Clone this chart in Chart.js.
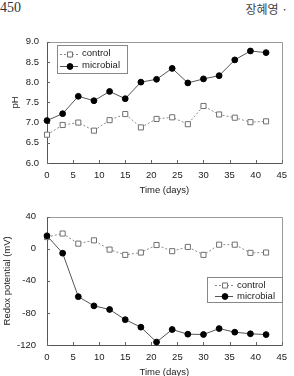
<!DOCTYPE html>
<html>
<head>
<meta charset="utf-8">
<script src="https://cdn.jsdelivr.net/npm/chart.js@4/dist/chart.umd.min.js"></script>
<style>
  html, body { margin:0; padding:0; background:#fff; width:294px; height:376px; overflow:hidden; }
  #hdrL { position:absolute; left:0px; top:0px; font-family:"Liberation Serif","DejaVu Serif",serif; font-size:14px; color:#333; }
  #hdrR { position:absolute; right:6px; top:0px; font-family:"Noto Sans CJK KR",sans-serif; font-size:12px; color:#444; }
  .wrap { position:absolute; left:0; width:294px; }
  #w1 { top:28px; height:170px; }
  #w2 { top:200px; height:180px; }
</style>
</head>
<body>
<div id="hdrL">450</div>
<div id="hdrR">장혜영 ·</div>
<div class="wrap" id="w1"><canvas id="c1"></canvas></div>
<div class="wrap" id="w2"><canvas id="c2"></canvas></div>
<script>
// ---- data ----
const days = [0, 3, 6, 9, 12, 15, 18, 21, 24, 27, 30, 33, 36, 39, 42];
const phControl   = [6.70, 6.94, 7.00, 6.80, 7.06, 7.21, 6.88, 7.09, 7.13, 6.96, 7.41, 7.20, 7.12, 7.01, 7.03];
const phMicrobial = [7.05, 7.22, 7.65, 7.54, 7.77, 7.59, 8.00, 8.07, 8.34, 7.98, 8.08, 8.16, 8.55, 8.77, 8.73];
const redoxControl   = [14.6, 19.0, 6.4, 10.5, -1.0, -7.6, -4.7, 4.7, -3.0, 2.3, -7.6, 5.1, 5.1, -5.1, -4.7];
const redoxMicrobial = [16.2, -5.5, -59.7, -71.2, -75.7, -88.4, -97.8, -116.3, -100.7, -106.5, -106.9, -99.5, -104.0, -106.0, -107.0];
const seriesNames = ['control', 'microbial'];
const xTitle = 'Time (days)';
const phTitle = 'pH';
const redoxTitle = 'Redox potential (mV)';

const FONT = '"Liberation Sans", Arial, sans-serif';

function makeDatasets(ctrl, micro) {
  return [
    { label: seriesNames[0], data: days.map((d,i)=>({x:d, y:ctrl[i]})),
      borderColor:'#8a8a8a', borderWidth:1, borderDash:[2,2], pointStyle:'rect',
      pointRadius:3.6, pointBackgroundColor:'#fff', pointBorderColor:'#707070', pointBorderWidth:1,
      tension:0, clip:false, order:2 },
    { label: seriesNames[1], data: days.map((d,i)=>({x:d, y:micro[i]})),
      borderColor:'#555', borderWidth:1, pointStyle:'circle',
      pointRadius:2.9, pointBackgroundColor:'#000', pointBorderColor:'#000', pointBorderWidth:1,
      tension:0, clip:false, order:1 }
  ];
}

const framePlugin = {
  id:'frame',
  beforeDatasetsDraw(chart) {
    const {ctx, chartArea:a, scales} = chart;
    ctx.save();
    ctx.lineWidth = 1;
    ctx.strokeStyle = '#9a9a9a';
    ctx.beginPath();
    ctx.moveTo(Math.round(a.left)+0.5, Math.round(a.top)+0.5);
    ctx.lineTo(Math.round(a.right)+0.5, Math.round(a.top)+0.5);
    ctx.lineTo(Math.round(a.right)+0.5, Math.round(a.bottom)+0.5);
    ctx.stroke();
    ctx.strokeStyle = '#555';
    ctx.beginPath();
    ctx.moveTo(Math.round(a.left)+0.5, Math.round(a.top)+0.5);
    ctx.lineTo(Math.round(a.left)+0.5, Math.round(a.bottom)+0.5);
    ctx.lineTo(Math.round(a.right)+0.5, Math.round(a.bottom)+0.5);
    ctx.stroke();
    ctx.strokeStyle = '#666';
    ctx.beginPath();
    scales.x.ticks.forEach(t => {
      const px = Math.round(scales.x.getPixelForValue(t.value))+0.5;
      ctx.moveTo(px, a.bottom); ctx.lineTo(px, a.bottom-3);
    });
    scales.y.ticks.forEach(t => {
      const py = Math.round(scales.y.getPixelForValue(t.value))+0.5;
      ctx.moveTo(a.left, py); ctx.lineTo(a.left+3, py);
    });
    ctx.stroke();
    ctx.restore();
  },
  afterDraw(chart) {
    const o = chart.options.plugins.frame;
    if (!o) return;
    const ctx = chart.ctx;
    ctx.save();
    ctx.fillStyle = '#fff';
    ctx.fillRect(o.left, o.top, o.w, o.h);
    ctx.strokeStyle = '#888';
    ctx.lineWidth = 1;
    ctx.strokeRect(o.left+0.5, o.top+0.5, o.w, o.h);
    ctx.font = '9.5px ' + FONT;
    ctx.textBaseline = 'middle';
    chart.data.datasets.forEach((ds, i) => {
      const y = o.top + o.rows[i];
      ctx.save();
      ctx.strokeStyle = ds.borderColor;
      ctx.lineWidth = ds.borderWidth;
      ctx.setLineDash(ds.borderDash || []);
      ctx.beginPath();
      ctx.moveTo(o.left + o.l1, Math.round(y)+0.5);
      ctx.lineTo(o.left + o.l2, Math.round(y)+0.5);
      ctx.stroke();
      ctx.setLineDash([]);
      ctx.fillStyle = ds.pointBackgroundColor;
      ctx.strokeStyle = ds.pointBorderColor;
      ctx.lineWidth = ds.pointBorderWidth;
      Chart.helpers.drawPoint(ctx, {pointStyle: ds.pointStyle, rotation:0, radius: ds.pointRadius, borderWidth: ds.pointBorderWidth},
        o.left + o.mk, Math.round(y)+0.5);
      ctx.restore();
      ctx.fillStyle = '#222';
      ctx.fillText(ds.label, o.left + o.tx, y);
    });
    ctx.restore();
  }
};

function makeChart(id, ctrl, micro, yOpts, layoutTop, legend) {
  return new Chart(document.getElementById(id), {
    type:'line',
    data:{ datasets: makeDatasets(ctrl, micro) },
    plugins:[framePlugin],
    options:{
      responsive:true, maintainAspectRatio:false, animation:false,
      layout:{ padding:{ top:layoutTop, right:8, bottom:0, left:0 } },
      plugins:{ legend:{display:false}, tooltip:{enabled:false}, frame: legend },
      scales:{
        x:{ type:'linear', min:0, max:45,
            grid:{display:false, drawTicks:false}, border:{display:false},
            ticks:{ stepSize:5, padding:7, color:'#222', font:{family:FONT, size:9.5}, maxRotation:0, autoSkip:false },
            title:{ display:true, text:xTitle, color:'#222', font:{family:FONT, size:9.5}, padding:{top:0,bottom:2.3} },
            afterFit(s){ s.height = 35; } },
        y:{ type:'linear', min:yOpts.min, max:yOpts.max,
            grid:{display:false, drawTicks:false}, border:{display:false},
            ticks:{ stepSize:yOpts.step, padding:yOpts.pad, color:'#222', font:{family:FONT, size:9.5},
                    callback: yOpts.fmt },
            title:{ display:true, text:yOpts.title, color:'#222', font:{family:FONT, size:9.5}, padding:{top:yOpts.tpad, bottom:0} },
            afterFit(s){ s.width = 47; } }
      }
    }
  });
}

makeChart('c1', phControl, phMicrobial,
  { min:6, max:9, step:0.5, pad:8, title:phTitle, tpad:9.3, fmt:(v)=>Number(v).toFixed(1) },
  10,
  { left:57, top:17, w:70, h:28, rows:[8.5, 20.5], l1:3, l2:21, mk:13, tx:25 });

makeChart('c2', redoxControl, redoxMicrobial,
  { min:-120, max:40, step:40, pad:11, title:redoxTitle, tpad:1.3, fmt:(v)=>String(v) },
  15,
  { left:207, top:77, w:75, h:25, rows:[8, 19], l1:8, l2:26, mk:18, tx:30 });
</script>
</body>
</html>
